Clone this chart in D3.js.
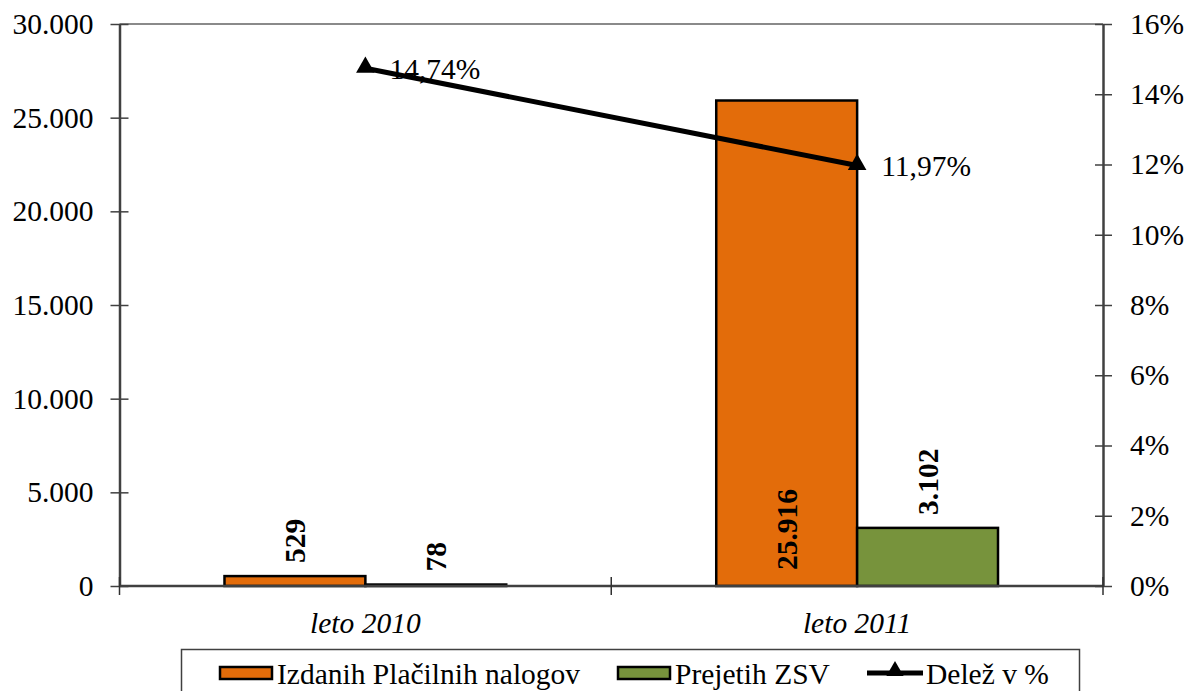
<!DOCTYPE html>
<html>
<head>
<meta charset="utf-8">
<script src="https://cdn.jsdelivr.net/npm/d3@7"></script>
<style>
  html, body { margin: 0; padding: 0; background: #fff; }
  svg, svg text { font-family: "Liberation Serif", "Times New Roman", Times, "DejaVu Serif", serif !important; }
</style>
</head>
<body>
<svg id="chart" width="1185" height="691"></svg>
<script>
// ---- data ----
const categories = ["leto 2010", "leto 2011"];
const seriesNames = ["Izdanih Plačilnih nalogov", "Prejetih ZSV", "Delež v %"];
const issuedOrders = [529, 25916];
const receivedZSV = [78, 3102];
const sharePct = [14.74, 11.97];
const shareLabels = ["14,74%", "11,97%"];
const leftTicks = [0, 5000, 10000, 15000, 20000, 25000, 30000];
const leftTickLabels = ["0", "5.000", "10.000", "15.000", "20.000", "25.000", "30.000"];
const rightTicks = [0, 2, 4, 6, 8, 10, 12, 14, 16];
const rightTickLabels = ["0%", "2%", "4%", "6%", "8%", "10%", "12%", "14%", "16%"];
const barLabels = [["529", "25.916"], ["78", "3.102"]];

const colors = { orange: "#E36C0A", green: "#77933C", line: "#000000" };
const FONT = '"Liberation Serif", "Times New Roman", Times, "DejaVu Serif", serif';
const FS = 29.5;

const svg = d3.select("#chart");
const L = 119.5, R = 1103, T = 24, B = 586;

const x0 = d3.scaleBand().domain(categories).range([L, R]).paddingInner(0.427).paddingOuter(0.2135);
const x1 = d3.scaleBand().domain([0, 1]).range([0, x0.bandwidth()]).padding(0);
const yL = d3.scaleLinear().domain([0, 30000]).range([B, T]);
const yR = d3.scaleLinear().domain([0, 16]).range([B, T]);

// top border
svg.append("line").attr("x1", L).attr("x2", R).attr("y1", T).attr("y2", T)
  .attr("stroke", "#8a8a8a").attr("stroke-width", 2);

// bars
const seriesVals = [issuedOrders, receivedZSV];
const seriesCols = [colors.orange, colors.green];
seriesVals.forEach((vals, si) => {
  svg.append("g").selectAll("rect").data(vals).join("rect")
    .attr("x", (d, i) => x0(categories[i]) + x1(si))
    .attr("width", x1.bandwidth())
    .attr("y", d => yL(d))
    .attr("height", d => Math.max(0, B - yL(d)))
    .attr("fill", seriesCols[si])
    .attr("stroke", "#000").attr("stroke-width", 2.5);
});

// axes
const leftAxis = d3.axisLeft(yL).tickValues(leftTicks).tickFormat((d, i) => leftTickLabels[i]).tickSizeInner(9).tickSizeOuter(0).tickPadding(17);
const gL = svg.append("g").attr("transform", `translate(${L},0)`).call(leftAxis).attr("font-family", FONT);
gL.select(".domain").attr("stroke", "#404040").attr("stroke-width", 2.5);
gL.selectAll(".tick line").attr("stroke", "#404040").attr("stroke-width", 1.5).attr("x2", 9).attr("x1", -9);
gL.selectAll(".tick text").attr("font-size", FS).attr("fill", "#000").attr("x", -26);

const rightAxis = d3.axisRight(yR).tickValues(rightTicks).tickFormat((d, i) => rightTickLabels[i]).tickSizeInner(9).tickSizeOuter(0).tickPadding(18);
const gR = svg.append("g").attr("transform", `translate(${R},0)`).call(rightAxis).attr("font-family", FONT);
gR.select(".domain").attr("stroke", "#404040").attr("stroke-width", 2.5);
gR.selectAll(".tick line").attr("stroke", "#404040").attr("stroke-width", 1.5).attr("x1", -8).attr("x2", 9);
gR.selectAll(".tick text").attr("font-size", FS).attr("fill", "#000").attr("x", 27);

// bottom axis line
svg.append("line").attr("x1", L).attr("x2", R).attr("y1", B).attr("y2", B)
  .attr("stroke", "#404040").attr("stroke-width", 2.5);
// category boundary ticks
const boundaries = [L, (x0(categories[0]) + x0.bandwidth() + x0(categories[1])) / 2, R];
svg.append("g").selectAll("line").data(boundaries).join("line")
  .attr("x1", d => d).attr("x2", d => d).attr("y1", B - 9).attr("y2", B + 9)
  .attr("stroke", "#303030").attr("stroke-width", 1.5);

// category labels
svg.append("g").selectAll("text").data(categories).join("text")
  .attr("x", d => x0(d) + x0.bandwidth() / 2).attr("y", 633)
  .attr("text-anchor", "middle").attr("font-size", FS).attr("font-style", "italic")
  .text(d => d);

// bar labels (rotated)
seriesVals.forEach((vals, si) => {
  svg.append("g").selectAll("text").data(vals).join("text")
    .attr("transform", (d, i) => {
      const cx = x0(categories[i]) + x1(si) + x1.bandwidth() / 2;
      const inside = (si === 0 && i === 1);
      const yy = inside ? B - 16 : yL(d) - 13;
      return `translate(${cx},${yy}) rotate(-90)`;
    })
    .attr("dy", "0.35em")
    .attr("text-anchor", "start")
    .attr("font-size", FS).attr("font-weight", "bold")
    .text((d, i) => barLabels[si][i]);
});

// line series
const cx = c => x0(c) + x0.bandwidth() / 2;
const lineGen = d3.line().x((d, i) => cx(categories[i])).y(d => yR(d));
svg.append("path").datum(sharePct).attr("d", lineGen)
  .attr("fill", "none").attr("stroke", colors.line).attr("stroke-width", 5);
const tri = d3.symbol().type(d3.symbolTriangle).size(150);
svg.append("g").selectAll("path").data(sharePct).join("path")
  .attr("d", tri)
  .attr("transform", (d, i) => `translate(${cx(categories[i])},${yR(d) - 1})`)
  .attr("fill", "#000");
svg.append("g").selectAll("text").data(sharePct).join("text")
  .attr("x", (d, i) => cx(categories[i]) + 24).attr("y", d => yR(d))
  .attr("dy", "0.35em").attr("font-size", FS)
  .text((d, i) => shareLabels[i]);

// legend
const lg = svg.append("g");
lg.append("rect").attr("x", 181.5).attr("y", 649.5).attr("width", 898).attr("height", 60)
  .attr("fill", "#fff").attr("stroke", "#404040").attr("stroke-width", 1.5);
const legendItems = [
  { name: seriesNames[0], type: "bar", color: colors.orange, x: 220 },
  { name: seriesNames[1], type: "bar", color: colors.green, x: 618 },
  { name: seriesNames[2], type: "line", color: colors.line, x: 867 }
];
legendItems.forEach(it => {
  if (it.type === "bar") {
    lg.append("rect").attr("x", it.x).attr("y", 667).attr("width", 52).attr("height", 12)
      .attr("fill", it.color).attr("stroke", "#000").attr("stroke-width", 2.5);
  } else {
    lg.append("line").attr("x1", it.x).attr("x2", it.x + 56).attr("y1", 673).attr("y2", 673)
      .attr("stroke", "#000").attr("stroke-width", 5);
    lg.append("path").attr("d", d3.symbol().type(d3.symbolTriangle).size(130)())
      .attr("transform", `translate(${it.x + 28},671)`).attr("fill", "#000");
  }
  lg.append("text").attr("x", it.x + (it.type === "bar" ? 57 : 59)).attr("y", 684)
    .attr("font-size", FS).text(it.name);
});
</script>
</body>
</html>
